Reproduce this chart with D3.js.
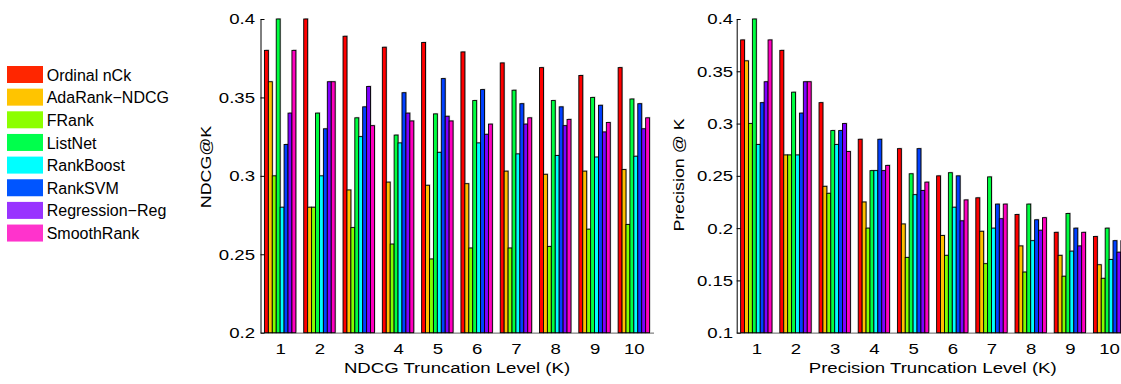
<!DOCTYPE html>
<html>
<head>
<meta charset="utf-8">
<script src="https://cdn.jsdelivr.net/npm/d3@7"></script>
<style>
  body { margin: 0; background: #fff; }
  svg { display: block; }
  text { font-family: "Liberation Sans", Arial, Helvetica, sans-serif; fill: #000; }
</style>
</head>
<body>
<div id="chart"></div>
<script>
const series = ['Ordinal nCk', 'AdaRank\u2212NDCG', 'FRank', 'ListNet', 'RankBoost', 'RankSVM', 'Regression\u2212Reg', 'SmoothRank'];
const colors = ['#ff0000', '#ffbf00', '#80ff00', '#00ff40', '#00ffff', '#0040ff', '#8000ff', '#ff00bf'];
const legendColors = ['#ff2600', '#ffc400', '#8cff00', '#00ff4c', '#00ffff', '#0055ff', '#9933ff', '#ff33cc'];
const levels = [1, 2, 3, 4, 5, 6, 7, 8, 9, 10];

// NDCG@K, one array per method
const ndcg = [
  [0.380, 0.400, 0.389, 0.382, 0.385, 0.379, 0.372, 0.369, 0.364, 0.369],
  [0.360, 0.280, 0.291, 0.296, 0.294, 0.295, 0.303, 0.301, 0.303, 0.304],
  [0.300, 0.280, 0.267, 0.2565, 0.247, 0.254, 0.254, 0.255, 0.266, 0.269],
  [0.400, 0.340, 0.337, 0.326, 0.3395, 0.348, 0.3546, 0.348, 0.350, 0.349],
  [0.280, 0.300, 0.325, 0.321, 0.315, 0.321, 0.314, 0.313, 0.312, 0.3125],
  [0.320, 0.330, 0.344, 0.353, 0.362, 0.355, 0.346, 0.344, 0.345, 0.346],
  [0.340, 0.360, 0.357, 0.340, 0.338, 0.3265, 0.333, 0.332, 0.328, 0.330],
  [0.380, 0.360, 0.332, 0.335, 0.335, 0.333, 0.337, 0.336, 0.334, 0.337]
];

// Precision@K, one array per method
const precision = [
  [0.380, 0.370, 0.320, 0.285, 0.276, 0.250, 0.229, 0.213, 0.196, 0.192],
  [0.360, 0.270, 0.240, 0.225, 0.204, 0.193, 0.197, 0.183, 0.174, 0.165],
  [0.300, 0.270, 0.2333, 0.200, 0.172, 0.174, 0.166, 0.158, 0.154, 0.152],
  [0.400, 0.330, 0.2933, 0.255, 0.252, 0.253, 0.249, 0.223, 0.214, 0.200],
  [0.280, 0.270, 0.280, 0.255, 0.232, 0.220, 0.200, 0.188, 0.178, 0.170],
  [0.320, 0.310, 0.2933, 0.285, 0.276, 0.250, 0.223, 0.208, 0.200, 0.188],
  [0.340, 0.340, 0.300, 0.255, 0.236, 0.207, 0.209, 0.198, 0.183, 0.177],
  [0.380, 0.340, 0.2733, 0.260, 0.244, 0.227, 0.223, 0.210, 0.196, 0.188]
];

const ndcgTicks = [0.2, 0.25, 0.3, 0.35, 0.4];
const precTicks = [0.1, 0.15, 0.2, 0.25, 0.3, 0.35, 0.4];

const W = 1121, H = 384;
const FONT = 15.5, STRETCH = 1.2;

const svg = d3.select('#chart').append('svg')
  .attr('width', W)
  .attr('height', H);

// squeeze text wider like the original figure
function widen(sel, s) {
  sel.each(function() {
    const x = +this.getAttribute('x') || 0;
    this.setAttribute('x', x / s);
    this.setAttribute('transform', 'scale(' + s + ',1)');
  });
}

function panel(opt) {
  const x = d3.scaleLinear().domain([0.5, 10.5]).range([opt.left, opt.left + 10 * opt.step]);
  const y = d3.scaleLinear().domain(opt.domain).range([opt.bottom, opt.top]);
  const inner = d3.scaleBand().domain(d3.range(series.length)).range([-0.4, 0.4]);
  const bw = x(inner.bandwidth()) - x(0);

  const g = svg.append('g');

  // bottom axis (grey baseline), labels only
  const xAxis = g.append('g')
    .attr('transform', `translate(0,${opt.bottom})`)
    .call(d3.axisBottom(x).tickValues(levels).tickSize(0).tickSizeOuter(0).tickPadding(10.3));
  xAxis.select('.domain').attr('stroke', '#808080').attr('stroke-width', 1.2);
  xAxis.selectAll('text').attr('font-size', FONT).call(widen, STRETCH);

  const yAxis = g.append('g')
    .attr('transform', `translate(${opt.left},0)`)
    .call(d3.axisLeft(y).tickValues(opt.ticks).tickSize(-4).tickSizeOuter(0)
      .tickPadding(opt.pad).tickFormat(d => String(+d.toFixed(2))));
  yAxis.select('.domain').attr('stroke', '#000');
  yAxis.selectAll('text').attr('font-size', FONT).call(widen, STRETCH);
  g.selectAll('.tick line').attr('stroke', '#000');
  g.selectAll('.tick text').attr('fill', '#000');
  g.selectAll('.tick').select('text').attr('font-family', null);
  g.selectAll('g').attr('font-family', null);

  // bars
  const data = [];
  opt.values.forEach((arr, s) => arr.forEach((v, i) => data.push({ s, k: levels[i], v })));

  g.append('g').selectAll('rect')
    .data(data).enter()
    .append('rect')
    .attr('x', d => x(d.k + inner(d.s)) + 1)
    .attr('y', d => y(d.v) - 1)
    .attr('width', bw)
    .attr('height', d => y(opt.domain[0]) - y(d.v))
    .attr('fill', '#9a9a9a')
    .attr('opacity', 0.55);

  g.append('g').selectAll('rect')
    .data(data).enter()
    .append('rect')
    .attr('x', d => x(d.k + inner(d.s)))
    .attr('y', d => y(d.v))
    .attr('width', bw)
    .attr('height', d => y(opt.domain[0]) - y(d.v))
    .attr('fill', d => colors[d.s])
    .attr('stroke', '#000')
    .attr('stroke-width', 0.9);

  // axis titles
  g.append('text')
    .attr('transform', `translate(${(x.range()[0] + x.range()[1]) / 2},373) scale(${STRETCH},1)`)
    .attr('text-anchor', 'middle')
    .attr('font-size', FONT)
    .text(opt.xTitle);

  g.append('text')
    .attr('transform', `translate(${opt.yTitleX},${opt.yTitleY}) rotate(-90) scale(1.15,1)`)
    .attr('text-anchor', 'middle')
    .attr('font-size', FONT)
    .text(opt.yTitle);
}

panel({
  left: 260.5, step: 39.3, top: 19, bottom: 332.7,
  domain: [0.2, 0.4], ticks: ndcgTicks, values: ndcg, pad: 5.5,
  xTitle: 'NDCG Truncation Level (K)', yTitle: 'NDCG@K', yTitleX: 211, yTitleY: 167
});

panel({
  left: 736.7, step: 39.2, top: 19, bottom: 332.7,
  domain: [0.1, 0.4], ticks: precTicks, values: precision, pad: 3.5,
  xTitle: 'Precision Truncation Level (K)', yTitle: 'Precision @ K', yTitleX: 684, yTitleY: 175
});

// legend
const legend = svg.append('g');
const item = legend.selectAll('g')
  .data(series).enter()
  .append('g')
  .attr('transform', (d, i) => `translate(7,${66 + i * 22.65})`);
item.append('rect')
  .attr('width', 36)
  .attr('height', 17)
  .attr('fill', (d, i) => legendColors[i]);
item.append('text')
  .attr('x', 39.7)
  .attr('y', 14.6)
  .attr('font-size', 16)
  .text(d => d);
</script>
</body>
</html>
